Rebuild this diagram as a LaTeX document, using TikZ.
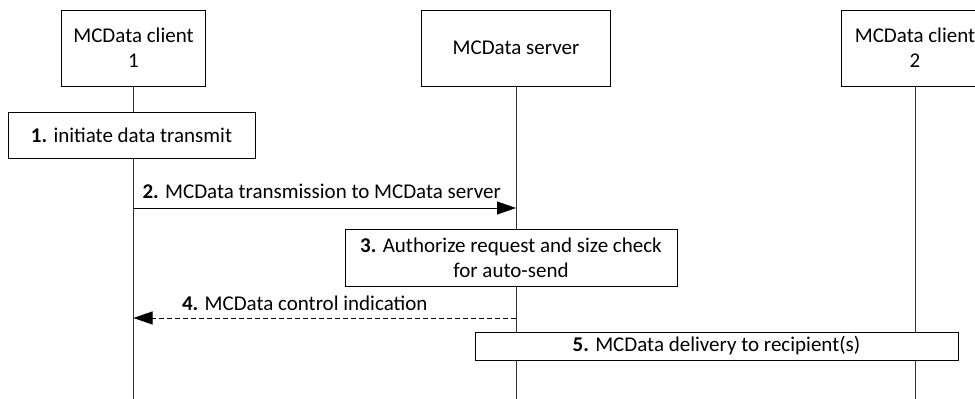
\documentclass[tikz,border=0pt]{standalone}
\usepackage{fontspec}
\setmainfont{Carlito}
\usetikzlibrary{arrows.meta,backgrounds}
\begin{document}
\begin{tikzpicture}[x=1pt,y=-1pt,
  every node/.style={font=\fontsize{21}{25}\selectfont, align=center, inner sep=0pt},
  ent/.style={draw, fill=white, minimum height=76pt},
  act/.style={draw, fill=white},
  life/.style={draw=black!80, line width=0.8pt},
  msg/.style={line width=0.8pt, -{Triangle[length=19pt,width=13pt]}},
  lbl/.style={inner sep=0pt}
]
\useasboundingbox (0,0) rectangle (975,399);
\node[ent, minimum width=144pt] (c1) at (133.5,48) {MCData client\\1};
\node[ent, minimum width=189pt] (srv) at (516,48) {MCData server};
\node[ent, minimum width=148pt] (c2) at (915,48) {MCData client\\2};
\node[act, minimum width=247pt, minimum height=46pt] (s1) at (131.5,135) {\textbf{1.} initiate data transmit};
\node[act, minimum width=332pt, minimum height=57pt] (s3) at (511,258) {\textbf{3.} Authorize request and size check\\for auto-send};
\node[act, minimum width=483pt, minimum height=28pt] (s5) at (716.5,346) {\textbf{5.} MCData delivery to recipient(s)};
\coordinate (e1) at (133.5,399);
\coordinate (es) at (516,399);
\coordinate (e2) at (915,399);
\coordinate (m2a) at (133.5,208);
\coordinate (m2b) at (516,208);
\coordinate (m4a) at (516,318);
\coordinate (m4b) at (133.5,318);
\begin{scope}[on background layer]
\draw[life] (c1.south) -- (e1);
\draw[life] (srv.south) -- (es);
\draw[life] (c2.south) -- (e2);
\end{scope}
\draw[msg] (m2a) -- node[lbl, above=9pt, xshift=-3pt] {\textbf{2.} MCData transmission to MCData server} (m2b);
\draw[msg, dash pattern=on 5pt off 3pt] (m4a) -- node[lbl, above=7pt, xshift=-20pt] {\textbf{4.} MCData control indication} (m4b);
\end{tikzpicture}
\end{document}
